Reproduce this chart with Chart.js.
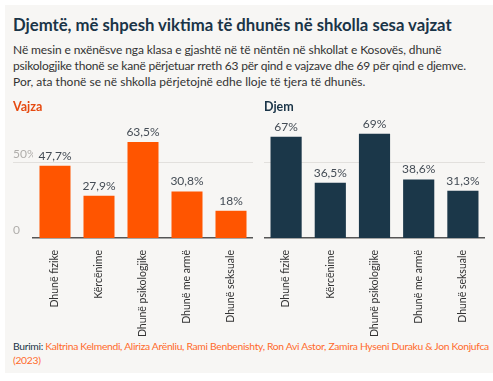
<!DOCTYPE html>
<html lang="sq">
<head>
    <meta charset="UTF-8">
    <title>Djemtë, më shpesh viktima të dhunës në shkolla sesa vajzat</title>
    <style>
        body {
            margin: 0;
            background: #ffffff;
            font-family: Lato, sans-serif;
            width: 493px;
            height: 381px;
            position: relative;
            overflow: hidden;
        }
        .panel {
            position: absolute;
            left: 5px;
            top: 5px;
            width: 488px;
            height: 368px;
            background: #f7f6f4;
        }
        .title {
            position: absolute;
            left: 13px;
            top: 15px;
            line-height: 20px;
            font-size: 16.7px;
            font-weight: bold;
            color: #1a3447;
            white-space: nowrap;
        }
        .subtitle {
            position: absolute;
            left: 13px;
            top: 42px;
            line-height: 16px;
            font-size: 12px;
            color: #333333;
            white-space: nowrap;
        }
        .subtitle .l1 { letter-spacing: -0.1px; }
        .subtitle .l2 { letter-spacing: -0.2px; }
        .source {
            position: absolute;
            left: 13px;
            top: 340px;
            line-height: 13.5px;
            font-size: 10.3px;
            letter-spacing: -0.3px;
            color: #1a3447;
            white-space: nowrap;
        }
        .source span { color: #ff6a2b; }
        .chart-box { position: absolute; top: 96px; height: 242px; }
    </style>
    <script src="https://cdn.jsdelivr.net/npm/chart.js"></script>
</head>
<body>
    <div class="panel"></div>
    <div class="title">Djemtë, më shpesh viktima të dhunës në shkolla sesa vajzat</div>
    <div class="subtitle"><span class="l1">Në mesin e nxënësve nga klasa e gjashtë në të nëntën në shkollat e Kosovës, dhunë</span><br><span class="l2">psikologjike thonë se kanë përjetuar rreth 63 për qind e vajzave dhe 69 për qind e djemve.</span><br>Por, ata thonë se në shkolla përjetojnë edhe lloje të tjera të dhunës.</div>

    <div class="chart-box" style="left:13px;width:240px;"><canvas id="girlsChart"></canvas></div>
    <div class="chart-box" style="left:264px;width:221px;"><canvas id="boysChart"></canvas></div>

    <div class="source">Burimi: <span>Kaltrina Kelmendi, Aliriza Arënliu, Rami Benbenishty, Ron Avi Astor, Zamira Hyseni Duraku &amp; Jon Konjufca</span><br><span>(2023)</span></div>

    <script>
        const categories = ['Dhunë fizike', 'Kërcënime', 'Dhunë psikologjike', 'Dhunë me armë', 'Dhunë seksuale'];
        const girlsValues = [47.7, 27.9, 63.5, 30.8, 18];
        const boysValues = [67, 36.5, 69, 38.6, 31.3];
        const yTicks = [0, 50];

        const FONT = 'Lato, sans-serif';

        function fmt(v) {
            return String(v).replace('.', ',') + '%';
        }

        // value labels above the bars + the 50% gridline (runs to the canvas edge)
        const extras = {
            id: 'extras',
            beforeDatasetsDraw(chart) {
                const ctx = chart.ctx;
                const y = chart.scales.y.getPixelForValue(50);
                ctx.save();
                ctx.strokeStyle = '#e2e0dd';
                ctx.lineWidth = 1;
                ctx.beginPath();
                ctx.moveTo(0, Math.round(y) + 0.5);
                ctx.lineTo(chart.chartArea.right, Math.round(y) + 0.5);
                ctx.stroke();
                ctx.restore();
            },
            afterDatasetsDraw(chart) {
                const ctx = chart.ctx;
                const meta = chart.getDatasetMeta(0);
                const data = chart.data.datasets[0].data;
                ctx.save();
                ctx.font = '12px ' + FONT;
                ctx.fillStyle = '#444c55';
                ctx.textAlign = 'center';
                ctx.textBaseline = 'bottom';
                meta.data.forEach((bar, i) => {
                    ctx.fillText(fmt(data[i]), bar.x, bar.y - 4);
                });
                ctx.restore();
            }
        };

        function makeChart(id, title, titleColor, values, barColor, showY) {
            return new Chart(document.getElementById(id), {
                type: 'bar',
                data: {
                    labels: categories,
                    datasets: [{
                        data: values,
                        backgroundColor: barColor,
                        barPercentage: 0.705,
                        categoryPercentage: 1
                    }]
                },
                options: {
                    responsive: true,
                    maintainAspectRatio: false,
                    animation: false,
                    layout: { padding: 0 },
                    plugins: {
                        legend: { display: false },
                        tooltip: { enabled: false },
                        title: {
                            display: true,
                            text: title,
                            align: 'start',
                            color: titleColor,
                            font: { family: FONT, size: 12.5, weight: 'bold' },
                            padding: { top: 3, bottom: 3 }
                        }
                    },
                    scales: {
                        x: {
                            grid: { display: false },
                            border: { color: '#555555', width: 1.5 },
                            ticks: {
                                minRotation: 90,
                                maxRotation: 90,
                                autoSkip: false,
                                padding: 4,
                                color: '#333333',
                                font: { family: FONT, size: 10.5 }
                            },
                            afterFit(scale) { scale.height = 100; }
                        },
                        y: {
                            display: showY,
                            min: 0,
                            max: 80,
                            grid: { display: false },
                            border: { display: false },
                            afterBuildTicks(scale) {
                                scale.ticks = yTicks.map(v => ({ value: v }));
                            },
                            afterFit(scale) { scale.width = showY ? 20 : 0; },
                            ticks: {
                                crossAlign: 'far',
                                labelOffset: -8,
                                padding: 0,
                                color: '#b0aeab',
                                font: { family: FONT, size: 12 },
                                callback: v => v === 0 ? '0' : v + '%'
                            }
                        }
                    }
                },
                plugins: [extras]
            });
        }

        makeChart('girlsChart', 'Vajza', '#e64a10', girlsValues, '#ff5500', true);
        makeChart('boysChart', 'Djem', '#1a3447', boysValues, '#1b3749', false);
    </script>
</body>
</html>
